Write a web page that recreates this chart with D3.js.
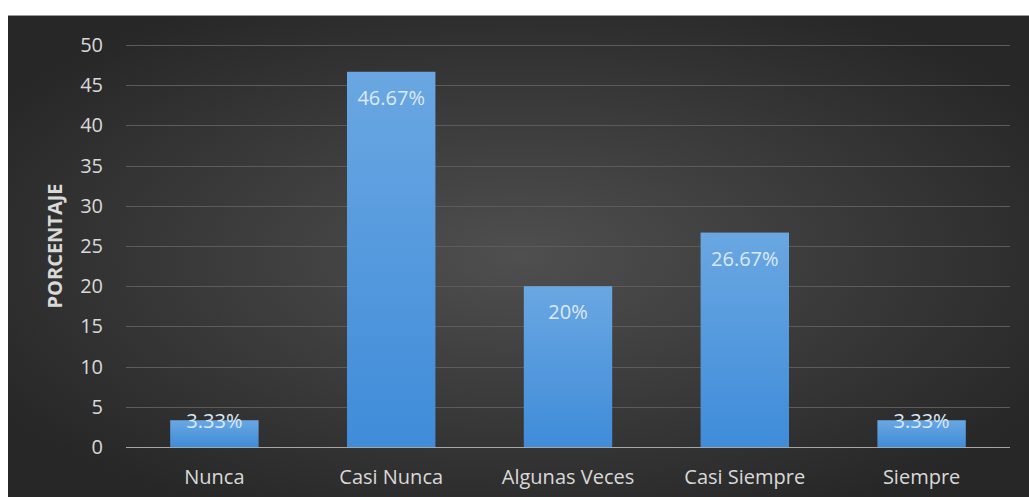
<!DOCTYPE html>
<html>
<head>
<meta charset="utf-8">
<script src="https://cdn.jsdelivr.net/npm/d3@7"></script>
<style>
  body { margin: 0; background: #ffffff; }
  svg { display: block; }
</style>
</head>
<body>
<div id="chart"></div>
<script>
// Data
var categories = ["Nunca", "Casi Nunca", "Algunas Veces", "Casi Siempre", "Siempre"];
var values = [3.33, 46.67, 20, 26.67, 3.33];
var labels = ["3.33%", "46.67%", "20%", "26.67%", "3.33%"];
var yTicks = [0, 5, 10, 15, 20, 25, 30, 35, 40, 45, 50];

var width = 1029,
   height = 497,
   margin = { top: 45, right: 19, bottom: 50, left: 126 };

var font = "'Open Sans', 'Noto Sans', sans-serif";

var svg = d3.select("#chart")
   .append("svg")
   .attr("width", width)
   .attr("height", height);

var defs = svg.append("defs");

// dark panel, lighter in the middle
var bg = defs.append("radialGradient")
   .attr("id", "bgGrad")
   .attr("cx", "50%").attr("cy", "50%").attr("r", "60%");
bg.append("stop").attr("offset", "0%").attr("stop-color", "#4f4f4f");
bg.append("stop").attr("offset", "100%").attr("stop-color", "#272727");

var barGrad = defs.append("linearGradient")
   .attr("id", "barGrad")
   .attr("x1", 0).attr("y1", 0).attr("x2", 0).attr("y2", 1);
barGrad.append("stop").attr("offset", "0%").attr("stop-color", "#6aa7e2");
barGrad.append("stop").attr("offset", "100%").attr("stop-color", "#3f8cd9");

svg.append("rect")
   .attr("x", 8).attr("y", 15)
   .attr("width", width - 8).attr("height", height - 15)
   .attr("fill", "url(#bgGrad)");
svg.append("line")
   .attr("x1", 8).attr("x2", width)
   .attr("y1", 15.5).attr("y2", 15.5)
   .attr("stroke", "#9a9a9a");

var g = svg.append("g")
   .attr("transform", "translate(" + margin.left + "," + margin.top + ")");

var w = width - margin.left - margin.right,
   h = height - margin.top - margin.bottom;

// Y axis
var y = d3.scaleLinear()
   .domain([0, 50])
   .range([h, 0]);

// X axis
var x = d3.scaleBand()
   .domain(categories)
   .range([0, w])
   .paddingInner(0.5)
   .paddingOuter(0.25);

// gridlines
g.append("g")
   .selectAll("line")
   .data(yTicks.slice(1))
   .enter()
   .append("line")
   .attr("x1", 0).attr("x2", w)
   .attr("y1", function (d) { return Math.round(y(d)) + 0.5; })
   .attr("y2", function (d) { return Math.round(y(d)) + 0.5; })
   .attr("stroke", "#5c5c5c")
   .attr("stroke-width", 1);

var yAxis = g.append("g")
   .call(d3.axisLeft(y).tickValues(yTicks).tickSize(0).tickPadding(23));
yAxis.select(".domain").remove();
yAxis.selectAll("text")
   .attr("fill", "#d9d9d9")
   .style("font-family", font)
   .style("font-size", "20px");

// Bars
g.selectAll(".bar")
   .data(values)
   .enter()
   .append("rect")
   .attr("class", "bar")
   .attr("x", function (d, i) { return x(categories[i]); })
   .attr("y", function (d) { return y(d); })
   .attr("width", x.bandwidth())
   .attr("height", function (d) { return h - y(d); })
   .attr("fill", "url(#barGrad)");

// zero line
g.append("line")
   .attr("x1", 0).attr("x2", w)
   .attr("y1", h + 0.5).attr("y2", h + 0.5)
   .attr("stroke", "#a6a6a6")
   .attr("stroke-width", 1.2);

var xAxis = g.append("g")
   .attr("transform", "translate(0," + h + ")")
   .call(d3.axisBottom(x).tickSize(0).tickPadding(23));
xAxis.select(".domain").remove();
xAxis.selectAll("text")
   .attr("fill", "#d9d9d9")
   .style("font-family", font)
   .style("font-size", "20px");

// data labels, inside end
g.selectAll(".lbl")
   .data(values)
   .enter()
   .append("text")
   .attr("class", "lbl")
   .attr("x", function (d, i) { return x(categories[i]) + x.bandwidth() / 2; })
   .attr("y", function (d) {
      var bh = h - y(d);
      return bh < 50 ? y(d) + 1 : y(d) + 26;
   })
   .attr("dy", "0.35em")
   .attr("text-anchor", "middle")
   .attr("fill", "#dbe9f8")
   .style("font-family", font)
   .style("font-size", "20px")
   .text(function (d, i) { return labels[i]; });

// y title
svg.append("text")
   .attr("transform", "translate(55," + (margin.top + h / 2) + ") rotate(-90)")
   .attr("text-anchor", "middle")
   .attr("dy", "0.35em")
   .attr("fill", "#d9d9d9")
   .style("font-family", font)
   .style("font-size", "20px")
   .style("font-weight", "bold")
   .text("PORCENTAJE");
</script>
</body>
</html>
